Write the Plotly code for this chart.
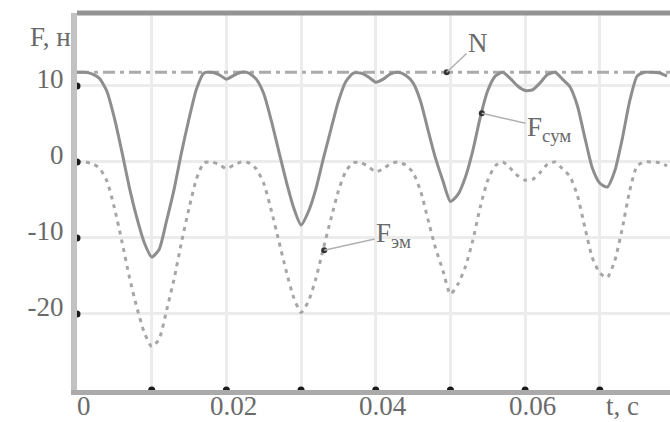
import plotly.graph_objects as go

# time, s
t = [0.000, 0.001, 0.002, 0.003, 0.004, 0.005, 0.006, 0.007, 0.008, 0.009,
     0.010, 0.011, 0.012, 0.013, 0.014, 0.015, 0.016, 0.017, 0.018, 0.019,
     0.020, 0.021, 0.022, 0.023, 0.024, 0.025, 0.026, 0.027, 0.028, 0.029,
     0.030, 0.031, 0.032, 0.033, 0.034, 0.035, 0.036, 0.037, 0.038, 0.039,
     0.040, 0.041, 0.042, 0.043, 0.044, 0.045, 0.046, 0.047, 0.048, 0.049,
     0.050, 0.051, 0.052, 0.053, 0.054, 0.055, 0.056, 0.057, 0.058, 0.059,
     0.060, 0.061, 0.062, 0.063, 0.064, 0.065, 0.066, 0.067, 0.068, 0.069,
     0.070, 0.071, 0.072, 0.073, 0.074, 0.075, 0.076, 0.077, 0.078, 0.079]

# F_сум (solid)
f_sum = [11.8, 11.8, 11.6, 11.0, 9.3, 5.8, 1.4, -3.3, -7.3, -10.6,
         -12.5, -11.5, -7.7, -3.6, 1.3, 5.7, 9.6, 11.7, 11.8, 11.5,
         10.9, 11.4, 11.8, 11.7, 10.9, 9.0, 5.5, 1.5, -2.5, -6.0,
         -8.3, -6.5, -3.5, 0.5, 4.3, 8.0, 10.6, 11.7, 11.7, 11.2,
         10.5, 10.9, 11.6, 11.8, 11.4, 10.4, 8.0, 4.2, 0.5, -2.5,
         -5.2, -4.3, -2.0, 1.5, 5.9, 9.4, 11.3, 11.8, 11.0, 10.0,
         9.4, 9.5, 10.4, 11.5, 11.8, 10.9, 9.9, 7.4, 3.2, -0.8,
         -2.8, -3.3, -1.2, 3.0, 8.0, 11.3, 11.8, 11.8, 11.7, 11.3]

# F_эм (dotted)
f_em = [0.0, 0.0, -0.2, -0.8, -2.5, -6.0, -10.4, -15.1, -19.1, -22.4,
        -24.3, -23.3, -19.5, -15.4, -10.5, -6.1, -2.2, -0.1, 0.0, -0.3,
        -0.9, -0.4, 0.0, -0.1, -0.9, -2.8, -6.3, -10.3, -14.3, -17.8,
        -19.8, -18.3, -15.3, -11.3, -7.5, -3.8, -1.2, -0.1, -0.1, -0.6,
        -1.3, -0.9, -0.2, 0.0, -0.4, -1.4, -3.8, -7.6, -11.3, -14.3,
        -17.4, -16.1, -13.8, -10.3, -5.9, -2.4, -0.5, 0.0, -0.8, -1.8,
        -2.4, -2.3, -1.4, -0.3, 0.0, -0.9, -1.9, -4.4, -8.6, -12.6,
        -14.6, -15.2, -13.0, -8.8, -3.8, -0.5, 0.0, 0.0, -0.1, -0.5]

# constant N
n_value = 11.8

x_ticks = [0.00, 0.01, 0.02, 0.03, 0.04, 0.05, 0.06, 0.07]
x_tick_text = ["0", "", "0.02", "", "0.04", "", "0.06", ""]
x_axis_title = "t, c"
x_axis_title_pos = 0.0731
y_ticks = [10, 0, -10, -20]
y_tick_text = ["10", "0", "-10", "-20"]
y_axis_title = "F, н"
y_axis_title_pos = 16.4

# label anchors (point on curve, label position)
label_names = ["N", "F<sub>сум</sub>", "F<sub>эм</sub>"]
label_pt_t = [0.0495, 0.0542, 0.0331]
label_pt_v = [11.8, 6.4, -11.6]
label_txt_t = [0.0537, 0.0632, 0.0424]
label_txt_v = [15.7, 4.4, -9.6]

x_range = [0, 0.0794]
y_range = [-30, 19.6]

font_family = "Liberation Serif, DejaVu Serif, serif"
text_color = "#6a6a6a"
tick_font = dict(family=font_family, size=27, color=text_color)

fig = go.Figure()

# N line
fig.add_trace(go.Scatter(
    x=[x_range[0], x_range[1]], y=[n_value, n_value], mode="lines",
    line=dict(color="#ababab", width=3, dash="12px,5px,4px,5px"),
    hoverinfo="skip", showlegend=False))

fig.add_trace(go.Scatter(
    x=t, y=f_em, mode="lines",
    line=dict(color="#a6a6a6", width=3, dash="4px,5px", shape="spline", smoothing=0.6),
    showlegend=False))

fig.add_trace(go.Scatter(
    x=t, y=f_sum, mode="lines",
    line=dict(color="#8e8e8e", width=3, shape="spline", smoothing=0.6),
    showlegend=False))

# label anchor dots
fig.add_trace(go.Scatter(
    x=label_pt_t, y=label_pt_v, mode="markers",
    marker=dict(color="#333333", size=6), showlegend=False, hoverinfo="skip"))

# tick dots on the axes
fig.add_trace(go.Scatter(
    x=x_ticks[1:], y=[y_range[0]] * (len(x_ticks) - 1), mode="markers",
    marker=dict(color="#1a1a1a", size=7), cliponaxis=False,
    showlegend=False, hoverinfo="skip"))
fig.add_trace(go.Scatter(
    x=[x_range[0]] * len(y_ticks), y=y_ticks, mode="markers",
    marker=dict(color="#1a1a1a", size=7), cliponaxis=False,
    showlegend=False, hoverinfo="skip"))

annotations = []
for name, pt, pv, tt, tv in zip(label_names, label_pt_t, label_pt_v, label_txt_t, label_txt_v):
    annotations.append(dict(
        x=pt, y=pv, xref="x", yref="y", ax=tt, ay=tv, axref="x", ayref="y",
        text=name, showarrow=True, arrowhead=0, arrowwidth=1.5, arrowcolor="#b0b0b0",
        font=dict(family=font_family, size=27, color=text_color)))

# x tick labels placed just under the axis (they are cut by the picture edge)
for xv, xt in zip(x_ticks, x_tick_text):
    if xt:
        annotations.append(dict(
            x=xv, y=0, xref="x", yref="paper", xanchor="center", yanchor="top",
            xshift=7, yshift=1, text=xt, showarrow=False, font=tick_font))
annotations.append(dict(
    x=x_axis_title_pos, y=0, xref="x", yref="paper", xanchor="center", yanchor="top",
    yshift=1, text=x_axis_title, showarrow=False, font=tick_font))

annotations.append(dict(
    x=0, y=y_axis_title_pos, xref="paper", yref="y", xanchor="right", yanchor="middle",
    xshift=-4, text=y_axis_title, showarrow=False, font=tick_font))

fig.update_layout(
    width=670, height=422,
    margin=dict(l=77, r=0, t=13, b=32, autoexpand=False),
    plot_bgcolor="white", paper_bgcolor="white",
    annotations=annotations,
    shapes=[dict(type="line", xref="paper", yref="paper", x0=0, x1=1, y0=1, y1=1,
                 line=dict(color="#939393", width=5))],
)

fig.update_xaxes(
    range=x_range, tickvals=x_ticks, showticklabels=False, automargin=False,
    showgrid=True, gridcolor="#ececec", gridwidth=3,
    zeroline=False, showline=True, linecolor="#aaaaaa", linewidth=5, ticks="")

fig.update_yaxes(
    range=y_range, tickvals=y_ticks, ticktext=y_tick_text, automargin=False,
    showgrid=True, gridcolor="#ececec", gridwidth=3,
    zeroline=False, showline=True, linecolor="#c2c2c2", linewidth=6,
    ticks="", ticklabelstandoff=2, ticklabelshift=-7, tickfont=tick_font)

fig.write_html("out.html", config={"displayModeBar": False},
               post_script="document.body.style.margin='0';")
